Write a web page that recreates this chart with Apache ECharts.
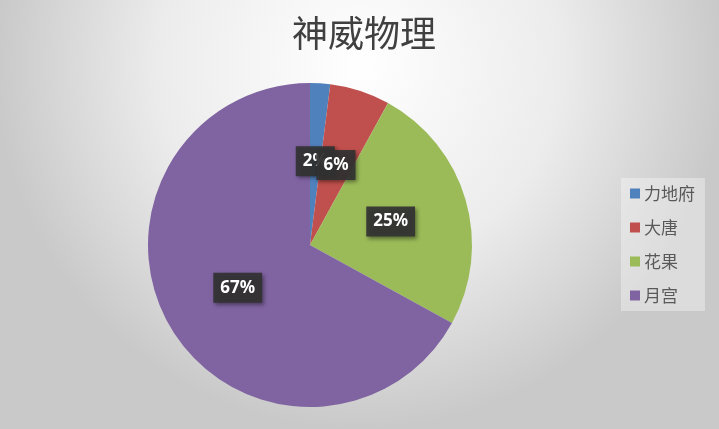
<!DOCTYPE html>
<html>
<head>
<meta charset="utf-8">
<script src="https://cdn.jsdelivr.net/npm/echarts@6/dist/echarts.min.js"></script>
<style>
  html, body { margin: 0; padding: 0; }
  #chart { width: 719px; height: 429px; }
</style>
</head>
<body>
<div id="chart"></div>
<script>
var chartTitle = '神威物理';
var categories = ['力地府', '大唐', '花果', '月宫'];
var values = [2, 6, 25, 67];
var colors = ['#4F81BD', '#C0504D', '#9BBB59', '#8064A2'];

var pieData = [];
for (var i = 0; i < categories.length; i++) {
  pieData.push({ name: categories[i], value: values[i], itemStyle: { color: colors[i] } });
}

var myChart = echarts.init(document.getElementById('chart'));

myChart.setOption({
  backgroundColor: {
    type: 'radial', x: 0.5, y: 0.15, r: 0.85,
    colorStops: [
      { offset: 0, color: '#ffffff' },
      { offset: 0.55, color: '#ececec' },
      { offset: 1, color: '#c9c9c9' }
    ]
  },
  title: {
    text: chartTitle,
    left: 359,
    top: 10,
    textAlign: 'center',
    textStyle: {
      fontFamily: 'Noto Sans CJK SC',
      fontSize: 36,
      fontWeight: 'normal',
      color: '#404040'
    }
  },
  legend: {
    orient: 'vertical',
    left: 621,
    top: 178,
    width: 85,
    itemWidth: 10,
    itemHeight: 10,
    itemGap: 17,
    icon: 'rect',
    padding: [7, 10, 7, 9],
    backgroundColor: 'rgba(255,255,255,0.35)',
    textStyle: {
      fontFamily: 'Noto Sans CJK SC',
      fontSize: 17,
      color: '#595959',
      padding: [0, 0, 0, -1]
    },
    data: categories
  },
  series: [{
    type: 'pie',
    center: [310, 245],
    radius: [0, 162],
    startAngle: 90,
    clockwise: true,
    avoidLabelOverlap: false,
    labelLayout: { hideOverlap: false },
    label: {
      show: true,
      position: 'inside',
      formatter: function (p) { return Math.round(p.percent) + '%'; },
      color: '#ffffff',
      fontFamily: 'Noto Sans',
      fontWeight: 'bold',
      fontSize: 17,
      backgroundColor: 'rgba(50,50,50,0.92)',
      padding: [7, 7, 6, 7],
      shadowColor: 'rgba(0,0,0,0.45)',
      shadowBlur: 4,
      shadowOffsetX: 2,
      shadowOffsetY: 2
    },
    labelLine: { show: false },
    emphasis: { disabled: true },
    data: pieData
  }]
});
</script>
</body>
</html>
